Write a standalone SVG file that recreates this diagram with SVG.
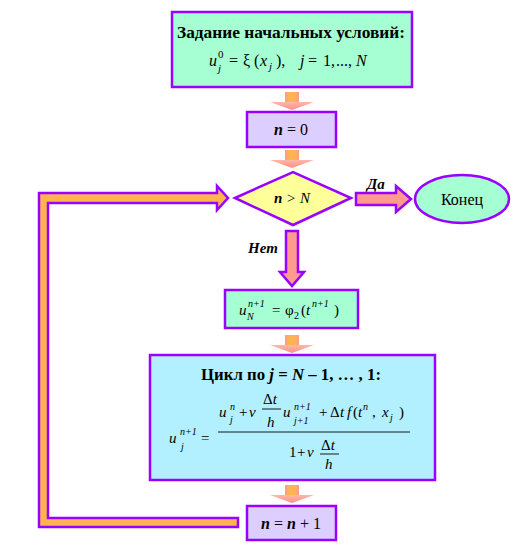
<svg xmlns="http://www.w3.org/2000/svg" width="529" height="547" viewBox="0 0 529 547" font-family="Liberation Serif, serif">
<style>
.box{stroke:#9900ff;stroke-width:2.5}
.mint{fill:#a6ffd2}
.lav{fill:#dccfff}
.cyan{fill:#b3f0ff}
.yel{fill:#ffff99}
text{font-family:'Liberation Serif',serif;fill:#000}
.b{font-weight:bold}
.i{font-style:italic}
.s{font-size:11px}
.s10{font-size:10px}
.arr{fill:#ff9a8f;stroke:#9900ff;stroke-width:2.5;stroke-linejoin:miter}
.fl{stroke:#000;stroke-width:0.9}
</style>
<defs>
<linearGradient id="sg" x1="0" y1="0" x2="1" y2="0">
<stop offset="0" stop-color="#ff9a8f"/>
<stop offset="0.3" stop-color="#ffb450"/>
<stop offset="0.7" stop-color="#ffb450"/>
<stop offset="1" stop-color="#ff9a8f"/>
</linearGradient>
<linearGradient id="hg" x1="0" y1="0" x2="0" y2="1">
<stop offset="0" stop-color="#ffb8a8"/>
<stop offset="1" stop-color="#ff8f80"/>
</linearGradient>
<g id="small">
<rect x="-7" y="0" width="14" height="10" fill="url(#sg)"/>
<polygon points="-22,10 22,10 0,18" fill="url(#hg)"/>
</g>
</defs>

<g id="connectors">
<use href="#small" x="292" y="92"/>
<use href="#small" x="292" y="150"/>
<use href="#small" x="292" y="335"/>
<use href="#small" x="292" y="485"/>
<polygon class="arr" points="356,193 396,193 396,186 411,199 396,212 396,205 356,205"/>
<polygon class="arr" points="286,231 298,231 298,272 304,272 292,286 280,272 286,272"/>
<polygon points="238,518 48,518 48,203 217,203 217,210 228,198 217,186 217,193 39,193 39,527 238,527" fill="#ffb450" stroke="#9900ff" stroke-width="2.5"/>
<text class="i b" font-size="15" x="367" y="189">Да</text>
<text class="i b" font-size="15" x="248" y="253">Нет</text>
</g>

<g id="init">
<rect class="box mint" x="172" y="12" width="240" height="75"/>
<text class="b" font-size="17" x="291" y="38" text-anchor="middle" textLength="228" lengthAdjust="spacingAndGlyphs">Задание начальных условий:</text>
<text font-size="16" y="66"><tspan class="i" x="209">u</tspan><tspan x="229">=</tspan><tspan x="243">ξ</tspan><tspan x="254">(</tspan><tspan class="i" x="260">x</tspan><tspan x="276">),</tspan><tspan class="i" x="300">j</tspan><tspan x="308">=</tspan><tspan x="323">1,</tspan><tspan x="336">...,</tspan><tspan class="i" x="356">N</tspan></text>
<text class="s" x="218" y="58">0</text>
<text class="s i" x="218" y="72">j</text>
<text class="s i" x="269" y="70">j</text>
</g>

<g id="n0">
<rect class="box lav" x="247" y="112" width="89" height="35"/>
<text font-size="16" x="291" y="135" text-anchor="middle"><tspan class="b i">n</tspan> = 0</text>
</g>

<g id="cond">
<polygon class="box yel" points="235,198 293,172 351,198 293,225"/>
<text class="i" font-size="15" x="292" y="203" text-anchor="middle"><tspan class="b">n</tspan> &gt; N</text>
</g>

<g id="end">
<ellipse class="box mint" cx="462" cy="199" rx="47" ry="24"/>
<text font-size="16" x="462" y="205" text-anchor="middle">Конец</text>
</g>

<g id="bound">
<rect class="box mint" x="225" y="290" width="133" height="38"/>
<text font-size="15" y="315"><tspan class="i" x="239">u</tspan><tspan x="272">=</tspan><tspan x="285">φ</tspan><tspan x="301">(</tspan><tspan class="i" x="306">t</tspan><tspan x="334">)</tspan></text>
<text class="s10 i" x="248" y="307">n+1</text>
<text class="s10 i" x="247" y="320">N</text>
<text class="s10" x="294" y="319">2</text>
<text class="s10 i" x="312" y="307">n+1</text>
</g>

<g id="loop">
<rect class="box cyan" x="150" y="355" width="285" height="125"/>
<text class="b" font-size="17" x="291" y="380" text-anchor="middle" textLength="180" lengthAdjust="spacingAndGlyphs">Цикл по <tspan class="i">j</tspan> = <tspan class="i">N</tspan> – 1, … , 1:</text>
<text font-size="15" y="443"><tspan class="i" x="169">u</tspan><tspan x="201">=</tspan></text>
<text class="s10 i" x="180" y="435">n+1</text>
<text class="s10 i" x="181" y="450">j</text>
<line class="fl" x1="218" y1="432" x2="410" y2="432"/>
<text font-size="15" y="417"><tspan class="i" x="219">u</tspan><tspan x="239">+</tspan><tspan class="i" x="249">ν</tspan><tspan class="i" x="283">u</tspan><tspan x="319">+</tspan><tspan x="330">Δ</tspan><tspan class="i" x="340">t</tspan><tspan class="i" x="347">f</tspan><tspan x="353">(</tspan><tspan class="i" x="358">t</tspan><tspan x="372">,</tspan><tspan class="i" x="382">x</tspan><tspan x="399">)</tspan></text>
<text class="s10 i" x="230" y="410">n</text>
<text class="s10 i" x="230" y="423">j</text>
<text font-size="15" x="263" y="404">Δ<tspan class="i">t</tspan></text>
<line class="fl" x1="262" y1="409" x2="281" y2="409"/>
<text class="i" font-size="15" x="267" y="427">h</text>
<text class="s10 i" x="294" y="410">n+1</text>
<text class="s10 i" x="294" y="424">j+1</text>
<text class="s10 i" x="363" y="410">n</text>
<text class="s10 i" x="390" y="421">j</text>
<text font-size="15" y="457"><tspan x="289">1</tspan><tspan x="297">+</tspan><tspan class="i" x="307">ν</tspan></text>
<text font-size="15" x="321" y="450">Δ<tspan class="i">t</tspan></text>
<line class="fl" x1="320" y1="454" x2="339" y2="454"/>
<text class="i" font-size="15" x="325" y="469">h</text>
</g>

<g id="inc">
<rect class="box lav" x="247" y="506" width="89" height="34"/>
<text font-size="16" x="291" y="529" text-anchor="middle"><tspan class="b i">n</tspan> = <tspan class="b i">n</tspan> + 1</text>
</g>
</svg>
